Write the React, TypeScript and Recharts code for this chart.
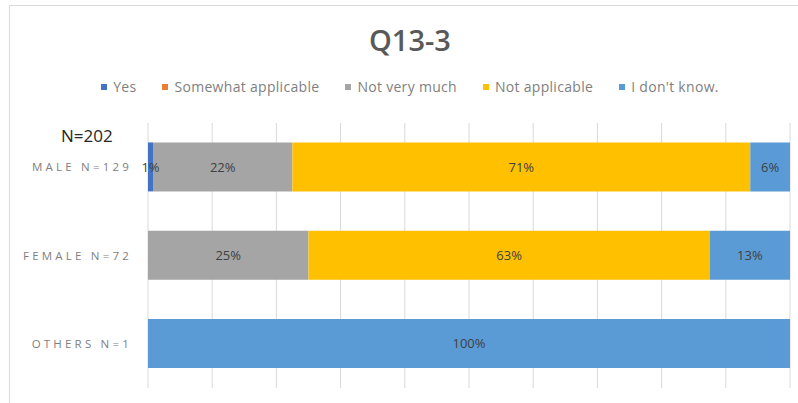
import React from 'react';
import { BarChart, Bar, XAxis, YAxis, CartesianGrid, LabelList } from 'recharts';

// Q13-3 answers by gender, in percent of each group
const categories = ['MALE N=129', 'FEMALE N=72', 'OTHERS N=1'];
const yes = [0.78, 0, 0];
const somewhat = [0, 0, 0];
const notVeryMuch = [21.71, 25, 0];
const notApplicable = [71.32, 62.5, 0];
const dontKnow = [6.19, 12.5, 100];
const xTicks = [0, 10, 20, 30, 40, 50, 60, 70, 80, 90, 100];

const series = [
    { key: 'yes', name: 'Yes', color: '#4472C4' },
    { key: 'somewhat', name: 'Somewhat applicable', color: '#ED7D31' },
    { key: 'notVeryMuch', name: 'Not very much', color: '#A5A5A5' },
    { key: 'notApplicable', name: 'Not applicable', color: '#FFC000' },
    { key: 'dontKnow', name: "I don't know.", color: '#5B9BD5' },
];

const data = categories.map((c, i) => ({
    category: c,
    yes: yes[i],
    somewhat: somewhat[i],
    notVeryMuch: notVeryMuch[i],
    notApplicable: notApplicable[i],
    dontKnow: dontKnow[i],
}));

const FONT = '"Open Sans", sans-serif';

const CategoryTick = ({ x, y, payload }: any) => (
    <text
        x={x - 8}
        y={y}
        dy={4}
        textAnchor="end"
        fill="#7F7F7F"
        fontSize={11.5}
        letterSpacing={3.2}
        fontFamily={FONT}
    >
        {payload.value}
    </text>
);

const pct = (v: any) => (v ? `${Math.round(v)}%` : '');

export default function App() {
    return (
        <div style={{ position: 'absolute', left: 0, top: 0, width: 798, height: 403, overflow: 'hidden', background: '#fff' }}>
            <div style={{ position: 'absolute', left: 9, top: 5, width: 820, height: 420, border: '1px solid #D9D9D9', boxSizing: 'border-box' }} />
            <div style={{ position: 'absolute', left: 0, top: 20, width: 820, textAlign: 'center', fontFamily: FONT, fontSize: 29, color: '#595959', fontWeight: 600 }}>
                Q13-3
            </div>
            {/* legend */}
            <div style={{ position: 'absolute', left: 0, top: 77, width: 820, display: 'flex', justifyContent: 'center', gap: 26, fontFamily: FONT, fontSize: 14, color: '#7F7F7F', letterSpacing: 0.3 }}>
                {series.map(s => (
                    <div key={s.key} style={{ display: 'flex', alignItems: 'center', gap: 6 }}>
                        <span style={{ width: 6, height: 6, background: s.color, display: 'inline-block' }} />
                        <span>{s.name}</span>
                    </div>
                ))}
            </div>
            <div style={{ position: 'absolute', left: 61, top: 124, fontFamily: FONT, fontSize: 17, color: '#262626' }}>
                N=202
            </div>
            <BarChart
                width={798}
                height={403}
                data={data}
                layout="vertical"
                barCategoryGap="22%"
                margin={{ top: 123, right: 8, left: 8, bottom: 15 }}
                style={{ position: 'absolute', left: 0, top: 0 }}
            >
                <CartesianGrid horizontal={false} stroke="#D9D9D9" />
                <XAxis
                    type="number"
                    domain={[0, 100]}
                    ticks={xTicks}
                    allowDataOverflow
                    axisLine={false}
                    tickLine={false}
                    tick={() => <g />}
                    height={0}
                />
                <YAxis
                    type="category"
                    dataKey="category"
                    width={140}
                    axisLine={false}
                    tickLine={false}
                    tick={<CategoryTick />}
                />
                {series.map(s => (
                    <Bar key={s.key} dataKey={s.key} name={s.name} stackId="a" fill={s.color} isAnimationActive={false}>
                        <LabelList
                            dataKey={s.key}
                            position="center"
                            formatter={pct}
                            fill="#404040"
                            fontSize={13}
                            fontFamily={FONT}
                        />
                    </Bar>
                ))}
            </BarChart>
        </div>
    );
}
